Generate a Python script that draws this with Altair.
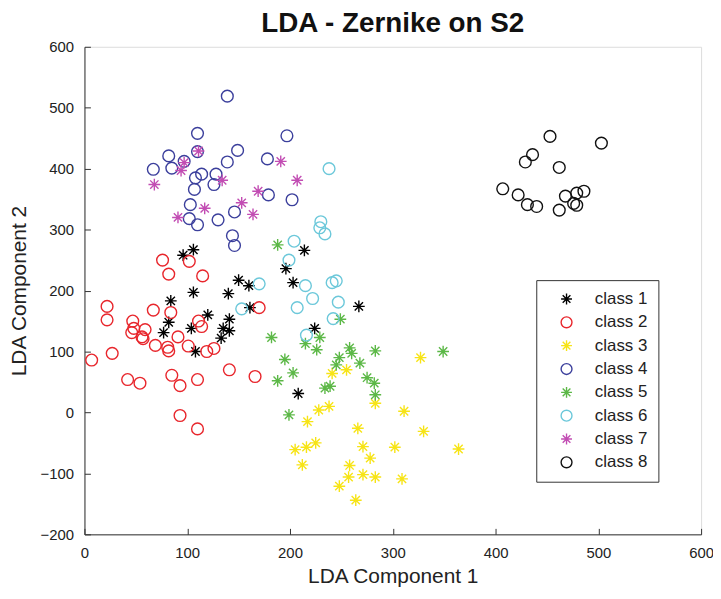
import altair as alt
import pandas as pd

classes = ["class 1", "class 2", "class 3", "class 4", "class 5", "class 6", "class 7", "class 8"]
colors = ["#000000", "#e8262c", "#f7e416", "#3b3f9c", "#5cb847", "#6cc8da", "#c24db3", "#111111"]

STAR = "M-1,0L1,0M0,-1L0,1M-0.7071,-0.7071L0.7071,0.7071M-0.7071,0.7071L0.7071,-0.7071"
shapes = [STAR, "circle", STAR, "circle", STAR, "circle", STAR, "circle"]

class1_x = [96, 106, 214, 196, 203, 150, 160, 106, 140, 161, 267, 120, 141, 104, 135, 141, 133, 224, 108, 208, 84, 82, 77]
class1_y = [258, 267, 266, 236, 213, 217, 208, 197, 195, 172, 174, 160, 153, 138, 138, 134, 122, 138, 100, 31, 183, 148, 131]

class2_x = [76, 82, 102, 22, 22, 67, 84, 47, 48, 46, 59, 56, 57, 69, 81, 82, 91, 101, 7, 27, 42, 54, 85, 93, 93, 110, 110, 111, 115, 114, 119, 126, 170, 141, 166]
class2_y = [250, 227, 248, 174, 152, 168, 164, 150, 138, 131, 136, 124, 121, 110, 107, 101, 124, 109, 86, 97, 54, 48, 61, 44, -5, -27, 54, 150, 224, 141, 100, 105, 172, 70, 59]

class3_x = [327, 283, 311, 330, 271, 302, 364, 278, 271, 283, 309, 266, 228, 238, 217, 205, 216, 225, 212, 258, 257, 248, 264, 241, 255]
class3_y = [90, 15, 2, -31, -56, -57, -60, -75, -102, -106, -109, -26, 4, 10, -15, -61, -57, -50, -86, -87, -106, -121, -144, 64, 70]

class4_x = [139, 110, 197, 82, 110, 149, 67, 85, 97, 139, 178, 114, 108, 128, 126, 107, 179, 202, 103, 146, 102, 110, 130, 144, 146]
class4_y = [519, 458, 454, 421, 428, 430, 399, 401, 412, 411, 416, 391, 385, 391, 374, 366, 357, 349, 341, 329, 318, 308, 316, 290, 274]

class5_x = [188, 249, 182, 229, 215, 226, 195, 203, 188, 258, 260, 248, 268, 245, 283, 275, 282, 234, 239, 283, 199, 349]
class5_y = [275, 153, 123, 123, 113, 103, 87, 65, 52, 106, 97, 90, 81, 78, 101, 57, 48, 40, 43, 29, -4, 100]

class6_x = [238, 230, 229, 234, 204, 199, 170, 215, 222, 241, 245, 247, 207, 153, 242, 216]
class6_y = [400, 313, 303, 293, 281, 250, 211, 208, 187, 213, 216, 181, 172, 170, 154, 127]

class7_x = [68, 94, 97, 111, 134, 191, 207, 169, 117, 91, 153, 164]
class7_y = [374, 397, 410, 429, 381, 412, 381, 363, 335, 320, 344, 325]

class8_x = [453, 503, 436, 429, 462, 407, 422, 431, 440, 462, 468, 479, 486, 476, 479]
class8_y = [453, 442, 423, 411, 402, 367, 357, 341, 338, 332, 355, 360, 363, 343, 340]

xs = [class1_x, class2_x, class3_x, class4_x, class5_x, class6_x, class7_x, class8_x]
ys = [class1_y, class2_y, class3_y, class4_y, class5_y, class6_y, class7_y, class8_y]

rows = []
for i, (cx, cy) in enumerate(zip(xs, ys)):
    for a, b in zip(cx, cy):
        rows.append({"x": a, "y": b, "cls": classes[i], "order": i})
df = pd.DataFrame(rows)

FONT = "Liberation Sans"
W, H = 621, 491

xscale = alt.Scale(domain=[0, 600], nice=False, zero=False)
yscale = alt.Scale(domain=[-200, 600], nice=False, zero=False)
tick_vals_x = [0, 100, 200, 300, 400, 500, 600]
tick_vals_y = [-200, -100, 0, 100, 200, 300, 400, 500, 600]

legend_common = dict(orient="none", legendX=455, legendY=235, title=None)

points = alt.Chart(df).mark_point(filled=False, size=140, strokeWidth=1.4, opacity=1).encode(
    x=alt.X("x:Q", scale=xscale,
            axis=alt.Axis(orient="bottom", values=tick_vals_x, title="LDA Component 1",
                          ticks=False, grid=False, labelPadding=11, titlePadding=6, labelFlush=False,
                          domainColor="#333333", labelColor="#222222", titleColor="#222222",
                          labelFont=FONT, titleFont=FONT, labelFontSize=15, titleFontSize=21,
                          titleFontWeight="normal")),
    y=alt.Y("y:Q", scale=yscale,
            axis=alt.Axis(orient="left", values=tick_vals_y, title="LDA Component 2",
                          ticks=False, grid=False, labelPadding=11, titlePadding=11, labelFlush=False,
                          domainColor="#333333", labelColor="#222222", titleColor="#222222",
                          labelFont=FONT, titleFont=FONT, labelFontSize=15, titleFontSize=21,
                          titleFontWeight="normal")),
    color=alt.Color("cls:N", scale=alt.Scale(domain=classes, range=colors),
                    legend=alt.Legend(**legend_common,
                                      padding=10.5, strokeColor="#333333", fillColor="white",
                                      labelFont=FONT, labelFontSize=17, labelColor="#222222",
                                      labelExpr="datum.label + '\u00a0\u00a0'",
                                      symbolSize=120, symbolStrokeWidth=1.4, rowPadding=5.5,
                                      labelOffset=20, symbolOffset=11.5)),
    shape=alt.Shape("cls:N", scale=alt.Scale(domain=classes, range=shapes),
                    legend=alt.Legend(**legend_common)),
    order=alt.Order("order:Q"),
)

ticks_layer = alt.Chart(df).mark_point(opacity=0).encode(
    x=alt.X("x:Q", scale=xscale,
            axis=alt.Axis(orient="top", offset=-H, values=tick_vals_x, title=None, labels=False,
                          domain=False, ticks=True, tickSize=6, tickColor="#333333", grid=False)),
    y=alt.Y("y:Q", scale=yscale,
            axis=alt.Axis(orient="right", offset=-W, values=tick_vals_y, title=None, labels=False,
                          domain=False, ticks=True, tickSize=6, tickColor="#333333", grid=False)),
)

chart = alt.layer(points, ticks_layer).resolve_axis(x="independent", y="independent").properties(
    width=W, height=H,
    title=alt.TitleParams("LDA - Zernike on S2", font=FONT, fontSize=28, fontWeight="bold",
                          color="#111111", anchor="middle", offset=2),
    autosize=alt.AutoSizeParams(type="none"),
    padding={"left": 77, "top": 37, "right": 12, "bottom": 56},
).configure_view(stroke=None).configure(background="white")

chart.save("out.html", embed_options={"renderer": "svg", "actions": False})
